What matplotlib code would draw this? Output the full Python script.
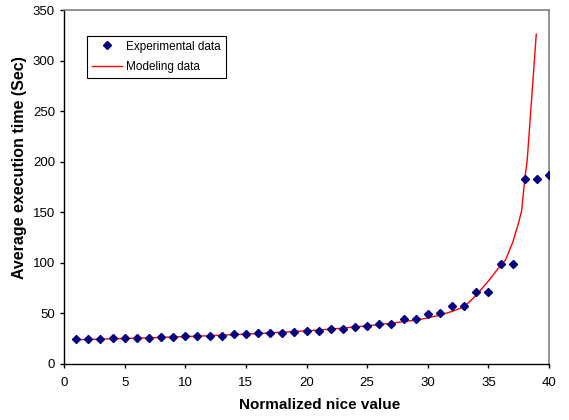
import matplotlib
matplotlib.use("Agg")
import matplotlib.pyplot as plt

plt.rcParams['font.family'] = ['Liberation Sans', 'DejaVu Sans']

nice = list(range(1, 41))
exec_time = [24.3, 24.3, 24.3, 25.3, 25.3, 25.3, 25.3, 26.6, 26.6, 27.9,
             27.9, 27.9, 27.9, 29.2, 29.2, 30.2, 30.2, 30.9, 31.2, 32.8,
             32.8, 34.2, 34.2, 36.2, 37.2, 39.8, 39.8, 44.0, 44.0, 49.3,
             50.0, 57.2, 57.2, 71.3, 71.3, 99.3, 99.3, 183.4, 183.4, 187.0]

model_x = [1, 2, 3, 4, 5, 6, 7, 8, 9, 10, 11, 12, 13, 14, 15, 16, 17, 18, 19, 20,
           21, 22, 23, 24, 25, 26, 27, 28, 29, 30, 31, 32, 33, 34, 35, 36,
           36.4, 37, 37.5, 37.75, 38, 38.2, 38.95]
model_y = [24.0, 24.3, 24.6, 24.9, 25.2, 25.5, 25.9, 26.3, 26.7, 27.1,
           27.5, 28.0, 28.5, 29.0, 29.5, 30.1, 30.7, 31.4, 32.1, 32.8,
           33.6, 34.5, 35.5, 36.6, 37.8, 39.0, 40.4, 41.9, 43.4, 45.5,
           48.3, 52.0, 56.5, 68.0, 82.0, 97.5,
           102.5, 120.0, 140.0, 152.0, 183.0, 201.0, 326.0]

fig = plt.figure(figsize=(5.69, 4.20), dpi=100)
ax = fig.add_axes([64/569, 1-364/420, (549-64)/569, (364-10)/420])

ax.plot(model_x, model_y, color='#FF0000', lw=1.0, label='Modeling data', zorder=2)
ax.plot(nice, exec_time, linestyle='none', marker='D', markersize=4.5,
        color='#000080', label='Experimental data', zorder=3)

ax.set_xlim(0, 40)
ax.set_ylim(0, 350)
ax.set_xticks(range(0, 41, 5))
ax.set_yticks(range(0, 351, 50))
ax.tick_params(direction='out', length=3, width=1, labelsize=9.5, color='black')
ax.tick_params(axis='x', pad=6.5)
ax.tick_params(axis='y', pad=3.5)

for s in ['top', 'right']:
    ax.spines[s].set_color('#808080')
    ax.spines[s].set_linewidth(1.2)
for s in ['left', 'bottom']:
    ax.spines[s].set_color('black')
    ax.spines[s].set_linewidth(1.0)

ax.set_xlabel('Normalized nice value', fontsize=11, fontweight='bold')
ax.xaxis.set_label_coords(0.527, -0.097)
ax.set_ylabel('Average execution time (Sec)', fontsize=11.5, fontweight='bold')
ax.yaxis.set_label_coords(-0.077, 0.555)

h, l = ax.get_legend_handles_labels()
leg = ax.legend([h[1], h[0]], [l[1], l[0]], loc='upper left',
                bbox_to_anchor=(0.047, 0.927), borderaxespad=0, fontsize=8.5,
                frameon=True, fancybox=False, edgecolor='black', framealpha=1,
                handlelength=2.6, borderpad=0.4, labelspacing=0.75, handletextpad=0.35)
leg.get_frame().set_linewidth(0.8)

fig.savefig('out.png', dpi=100)
